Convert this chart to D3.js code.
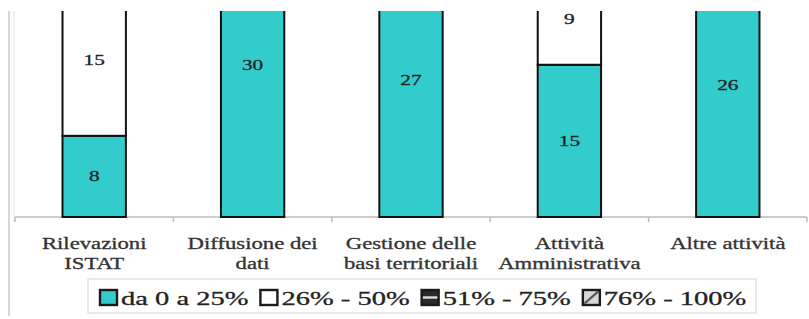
<!DOCTYPE html>
<html>
<head>
<meta charset="utf-8">
<script src="https://cdn.jsdelivr.net/npm/d3@7"></script>
<style>
  body { margin: 0; background: #fff; }
</style>
</head>
<body>
<script>
"use strict";

// categories and series
const categories = ["Rilevazioni\nISTAT", "Diffusione dei\ndati", "Gestione delle\nbasi territoriali",
                    "Attività\nAmministrativa", "Altre attività"];
const seriesNames = ["da 0 a 25%", "26% - 50%", "51% - 75%", "76% - 100%"];
const serie0a25 = [8, 30, 27, 15, 26];
const serie26a50 = [15, 0, 0, 9, 0];
const serie51a75 = [0, 0, 0, 0, 0];
const serie76a100 = [0, 0, 0, 0, 0];

const width = 809, height = 319;
const plotLeft = 15, plotRight = 807, plotTop = 11, baseY = 217;
const stretch = 1.42; // the picture is squeezed wider than tall
const serif = "'Liberation Serif'";

const svg = d3.select("body").append("svg")
    .attr("width", width)
    .attr("height", height);

const defs = svg.append("defs");
defs.append("clipPath").attr("id", "plotclip")
  .append("rect")
    .attr("x", 0).attr("y", plotTop)
    .attr("width", width).attr("height", baseY - plotTop + 2);

// patterns for the two empty series (legend only)
const hp = defs.append("pattern").attr("id", "hlines")
    .attr("patternUnits", "objectBoundingBox").attr("patternContentUnits", "objectBoundingBox")
    .attr("width", 1).attr("height", 1);
hp.append("rect").attr("width", 1).attr("height", 1).attr("fill", "#2a2a2a");
hp.append("rect").attr("y", 0.42).attr("width", 1).attr("height", 0.16).attr("fill", "#ddd");
const dp = defs.append("pattern").attr("id", "dlines")
    .attr("patternUnits", "objectBoundingBox").attr("patternContentUnits", "objectBoundingBox")
    .attr("width", 1).attr("height", 1);
dp.append("rect").attr("width", 1).attr("height", 1).attr("fill", "#d8d8d8");
dp.append("path").attr("d", "M0.1,0.9 L0.9,0.1").attr("stroke", "#555").attr("stroke-width", 0.14);

const colors = ["#33cccc", "#ffffff", "url(#hlines)", "url(#dlines)"];

const rows = categories.map((c, i) => ({
    cat: c,
    s0: serie0a25[i], s1: serie26a50[i], s2: serie51a75[i], s3: serie76a100[i]
}));
const keys = ["s0", "s1", "s2", "s3"];
const stacked = d3.stack().keys(keys)(rows);

const x = d3.scaleBand()
    .domain(categories)
    .range([plotLeft, plotRight])
    .paddingInner(0.6)
    .paddingOuter(0.3);
const xBand = d3.scaleBand().domain(categories).range([plotLeft, plotRight]);

const y = d3.scaleLinear()
    .domain([0, 35])
    .range([baseY, baseY - 35 * 10.15]);

// outer chart border (left side only visible)
svg.append("line")
    .attr("x1", 9).attr("x2", 9).attr("y1", plotTop).attr("y2", 316)
    .attr("stroke", "#c8c8c8").attr("stroke-width", 1.5);
svg.append("line")
    .attr("x1", plotLeft - 1).attr("x2", plotLeft - 1).attr("y1", plotTop).attr("y2", baseY + 5)
    .attr("stroke", "#e0e0e0").attr("stroke-width", 1);

// category axis
const xAxis = svg.append("g");
xAxis.append("line")
    .attr("x1", plotLeft).attr("x2", plotRight).attr("y1", baseY).attr("y2", baseY)
    .attr("stroke", "#bdbdbd").attr("stroke-width", 1.5);
const ticksX = categories.map(c => xBand(c)).concat([plotRight]);
xAxis.selectAll("line.tick")
    .data(ticksX)
    .enter().append("line")
    .attr("class", "tick")
    .attr("x1", d => d).attr("x2", d => d)
    .attr("y1", baseY).attr("y2", baseY + 5)
    .attr("stroke", "#bdbdbd").attr("stroke-width", 1.5);

// stacked bars
const plot = svg.append("g").attr("clip-path", "url(#plotclip)");
stacked.forEach((layer, li) => {
    plot.selectAll("rect.s" + li)
        .data(layer.filter(d => d[1] - d[0] > 0))
        .enter().append("rect")
        .attr("class", "s" + li)
        .attr("x", d => x(d.data.cat))
        .attr("width", x.bandwidth())
        .attr("y", d => y(d[1]))
        .attr("height", d => y(d[0]) - y(d[1]))
        .attr("fill", colors[li])
        .attr("stroke", "#111")
        .attr("stroke-width", 2);
});

// value labels
stacked.forEach((layer) => {
    plot.selectAll(null)
        .data(layer.filter(d => d[1] - d[0] > 0))
        .enter().append("text")
        .attr("transform", d => {
            const cx = x(d.data.cat) + x.bandwidth() / 2;
            const cy = y((d[0] + d[1]) / 2) + 5;
            return "translate(" + cx + "," + cy + ") scale(" + stretch + ",1)";
        })
        .attr("text-anchor", "middle")
        .style("font-family", serif)
        .style("font-size", "15px")
        .attr("fill", "#222")
        .attr("stroke", "#222").attr("stroke-width", 0.3)
        .text(d => d[1] - d[0]);
});

// category labels (two lines)
categories.forEach(c => {
    const lines = c.split("\n");
    const cx = xBand(c) + xBand.bandwidth() / 2;
    lines.forEach((ln, k) => {
        svg.append("text")
            .attr("transform", "translate(" + cx + "," + (249 + k * 20) + ") scale(" + stretch + ",1)")
            .attr("text-anchor", "middle")
            .style("font-family", serif)
            .style("font-size", "16px")
            .attr("fill", "#333")
            .attr("stroke", "#333").attr("stroke-width", 0.3)
            .text(ln);
    });
});

// legend
const legend = svg.append("g");
legend.append("rect")
    .attr("x", 88).attr("y", 279).attr("width", 668).attr("height", 34)
    .attr("fill", "#fff").attr("stroke", "#e2e2e2").attr("stroke-width", 1.5);
const legStretch = 1.5;
let lx = 100;
seriesNames.forEach((name, i) => {
    legend.append("rect")
        .attr("x", lx).attr("y", 290).attr("width", 17).attr("height", 15)
        .attr("fill", colors[i]).attr("stroke", "#1a1a1a").attr("stroke-width", 2.4);
    const t = legend.append("text")
        .attr("transform", "translate(" + (lx + 21) + ",305) scale(" + legStretch + ",1)")
        .style("font-family", serif)
        .style("font-size", "19px")
        .attr("fill", "#222")
        .attr("stroke", "#222").attr("stroke-width", 0.3)
        .text(name);
    lx += 21 + t.node().getComputedTextLength() * legStretch + 12;
});
</script>
</body>
</html>
